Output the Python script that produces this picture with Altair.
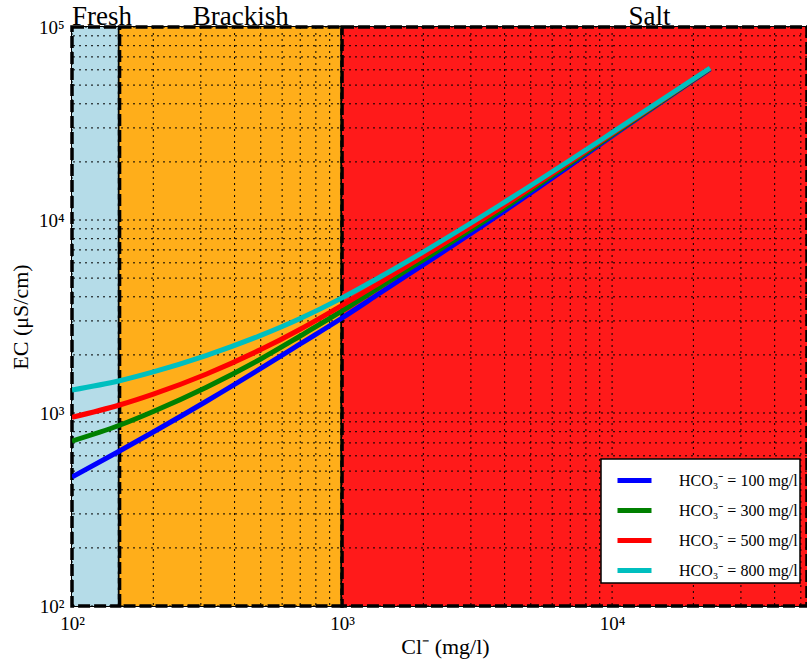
import altair as alt
import pandas as pd

# ---------------- data ----------------
XMAX = 52700  # right end of the visible Cl- axis
YMIN, YMAX = 100, 100000

cl = [100, 150, 200, 313.5, 500, 700, 1000, 1383, 3847, 6871, 10000, 23070]
ec_100 = [466, 636, 797, 1147, 1701, 2278, 3106, 4186, 10742, 18823, 27240, 60600]
ec_300 = [716, 864, 1018, 1356, 1905, 2506, 3377, 4496, 11135, 19275, 27575, 60950]
ec_500 = [950, 1100, 1252, 1588, 2131, 2718, 3614, 4745, 11527, 19693, 28007, 61300]
ec_800 = [1316, 1470, 1633, 1984, 2524, 3088, 3948, 5065, 11959, 20097, 28343, 61320]

series = ["HCO₃⁻ = 100 mg/l", "HCO₃⁻ = 300 mg/l", "HCO₃⁻ = 500 mg/l", "HCO₃⁻ = 800 mg/l"]
series_colors = ["#0000ff", "#008000", "#ff0000", "#00bfbf"]

zone_names = ["Fresh", "Brackish", "Salt"]
zone_start = [100, 150, 1000]
zone_end = [150, 1000, XMAX]
zone_colors = ["#b5dce8", "#ffae1a", "#ff1a1a"]
zone_label_x = [100, 280, 11500]

x_ticks = [100, 1000, 10000]
x_tick_labels = ["10²", "10³", "10⁴"]
y_ticks = [100, 1000, 10000, 100000]
y_tick_labels = ["10²", "10³", "10⁴", "10⁵"]

x_grid = [m * 10 ** e for e in (2, 3, 4) for m in range(1, 10) if m * 10 ** e <= XMAX]
y_grid = [m * 10 ** e for e in (2, 3, 4) for m in range(1, 10)] + [100000]

# ---------------- tables ----------------
rows = []
for name, vals in zip(series, [ec_100, ec_300, ec_500, ec_800]):
    for c, v in zip(cl, vals):
        rows.append({"Cl": c, "EC": v, "series": name})
lines_df = pd.DataFrame(rows)

zones_df = pd.DataFrame({
    "zone": zone_names, "x0": zone_start, "x1": zone_end,
    "y0": [YMIN] * 3, "y1": [YMAX] * 3, "lx": zone_label_x,
})
xgrid_df = pd.DataFrame({"v": x_grid})
ygrid_df = pd.DataFrame({"v": y_grid})

FONT = "Liberation Serif"


def label_expr(vals, labels):
    expr = "''"
    for v, l in zip(reversed(vals), reversed(labels)):
        expr = f"datum.value == {v} ? '{l}' : ({expr})"
    return expr


xsc = alt.Scale(type="log", domain=[100, XMAX], nice=False)
ysc = alt.Scale(type="log", domain=[YMIN, YMAX], nice=False)

x_axis = alt.Axis(values=x_ticks, labelExpr=label_expr(x_ticks, x_tick_labels),
                  grid=False, ticks=False, domain=False, labelFlush=False,
                  labelFont=FONT, labelFontSize=19, labelPadding=8, labelColor="black",
                  title="Cl⁻ (mg/l)", titleFont=FONT, titleFontSize=22,
                  titleFontWeight="normal", titleX=373, titlePadding=3, titleColor="black")
y_axis = alt.Axis(values=y_ticks, labelExpr=label_expr(y_ticks, y_tick_labels),
                  grid=False, ticks=False, domain=False, labelFlush=False,
                  labelFont=FONT, labelFontSize=19, labelPadding=8, labelColor="black",
                  title="EC (μS/cm)", titleFont=FONT, titleFontSize=22,
                  titleFontWeight="normal", titlePadding=6, titleColor="black")

zones = alt.Chart(zones_df).mark_rect(
    stroke="black", strokeWidth=3.5, strokeDash=[12, 4]
).encode(
    x=alt.X("x0:Q", scale=xsc, axis=x_axis),
    x2="x1:Q",
    y=alt.Y("y0:Q", scale=ysc, axis=y_axis),
    y2="y1:Q",
    fill=alt.Fill("zone:N", scale=alt.Scale(domain=zone_names, range=zone_colors), legend=None),
)

xgrid = alt.Chart(xgrid_df).mark_rule(
    color="black", strokeWidth=1, strokeDash=[2, 4]
).encode(x=alt.X("v:Q", scale=xsc, axis=x_axis))

ygrid = alt.Chart(ygrid_df).mark_rule(
    color="black", strokeWidth=1, strokeDash=[2, 4]
).encode(y=alt.Y("v:Q", scale=ysc, axis=y_axis))

zone_labels = alt.Chart(zones_df).mark_text(
    align="left", baseline="alphabetic", dy=-2, font=FONT, fontSize=27, color="black"
).encode(
    x=alt.X("lx:Q", scale=xsc, axis=x_axis),
    y=alt.Y("y1:Q", scale=ysc, axis=y_axis),
    text="zone:N",
)

lines = alt.Chart(lines_df).mark_line(
    strokeWidth=5, interpolate="monotone", clip=True
).encode(
    x=alt.X("Cl:Q", scale=xsc, axis=x_axis),
    y=alt.Y("EC:Q", scale=ysc, axis=y_axis),
    color=alt.Color("series:N", sort=series,
                    scale=alt.Scale(domain=series, range=series_colors),
                    legend=alt.Legend(
                        title=None, orient="none", legendX=529, legendY=432,
                        padding=2, fillColor="white", strokeColor="black",
                        symbolType="stroke", symbolSize=1156, symbolStrokeWidth=5,
                        symbolOffset=12, rowPadding=0, labelOffset=25,
                        labelFont=FONT, labelFontSize=16, labelColor="black",
                    )),
    order=alt.Order("Cl:Q"),
)

chart = alt.layer(zones, xgrid, ygrid, zone_labels, lines).properties(
    width=735, height=579,
    autosize=alt.AutoSizeParams(type="none"),
    padding={"left": 72, "top": 27, "right": 0, "bottom": 53},
).configure_view(
    stroke="black", strokeWidth=2
).configure_legend(
    strokeWidth=1.5, cornerRadius=0
)

chart.save("out.html", embed_options={"renderer": "svg", "actions": False})
